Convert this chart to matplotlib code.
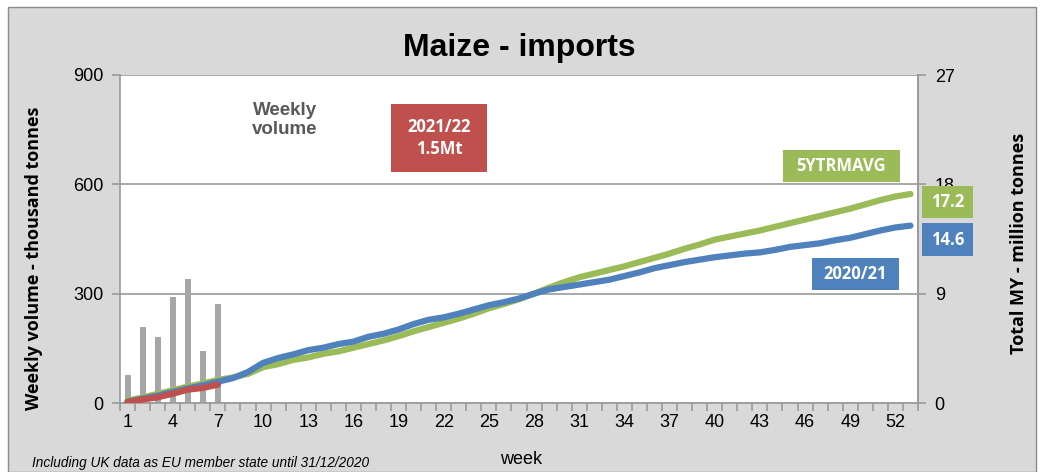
import matplotlib.pyplot as plt
from matplotlib.patches import Rectangle
import numpy as np

weeks = list(range(1, 54))
bar_weeks = [1, 2, 3, 4, 5, 6, 7]
weekly_volume = [77, 208, 181, 291, 340, 143, 272]  # thousand tonnes

red_weeks = [1, 2, 3, 4, 5, 6, 7]
cum_2122 = [0.08, 0.29, 0.47, 0.76, 1.10, 1.24, 1.51]  # Mt

cum_2021 = [0.10, 0.35, 0.60, 0.90, 1.20, 1.45, 1.75, 2.05, 2.55, 3.30,
            3.70, 4.00, 4.35, 4.55, 4.85, 5.05, 5.45, 5.70, 6.05, 6.50,
            6.85, 7.05, 7.35, 7.70, 8.05, 8.30, 8.60, 9.00, 9.35, 9.55,
            9.75, 9.95, 10.15, 10.45, 10.75, 11.10, 11.35, 11.60, 11.80, 12.00,
            12.15, 12.30, 12.40, 12.60, 12.85, 13.00, 13.15, 13.40, 13.60, 13.90,
            14.20, 14.45, 14.60]
cum_5yr = [0.20, 0.45, 0.75, 1.05, 1.35, 1.60, 1.90, 2.10, 2.40, 2.95,
           3.20, 3.55, 3.75, 4.05, 4.25, 4.55, 4.85, 5.15, 5.50, 5.90,
           6.25, 6.60, 6.95, 7.35, 7.80, 8.15, 8.55, 9.00, 9.50, 9.95,
           10.35, 10.65, 10.95, 11.25, 11.60, 11.95, 12.30, 12.70, 13.05, 13.45,
           13.70, 13.95, 14.20, 14.50, 14.80, 15.10, 15.40, 15.70, 16.00, 16.35,
           16.70, 17.00, 17.20]

left_ticks = [0, 300, 600, 900]
right_ticks = [0, 9, 18, 27]
xtick_weeks = list(range(1, 53, 3))

RED = '#c0504d'
GREEN = '#9bbb59'
BLUE = '#4f81bd'
GREY = '#a6a6a6'
BG = '#d9d9d9'
narrow = ['Liberation Sans Narrow', 'Liberation Sans', 'DejaVu Sans']
bold_font = ['Open Sans', 'DejaVu Sans']

fig = plt.figure(figsize=(10.44, 4.72), dpi=100, facecolor='white')
fig.patches.append(Rectangle((8 / 1044, 0), 1028 / 1044, 465 / 472,
                             transform=fig.transFigure, facecolor=BG,
                             edgecolor='#8c8c8c', lw=1, zorder=-10))

ax = fig.add_axes([120 / 1044, 69 / 472, 798 / 1044, 328 / 472])
ax.set_facecolor('white')
ax.bar(bar_weeks, weekly_volume, width=0.4, color=GREY, zorder=2)
ax.set_ylim(0, 900)
ax.set_xlim(0.5, 53.5)
ax.set_yticks(left_ticks)
ax.set_yticklabels([str(t) for t in left_ticks], family=narrow, fontsize=13)
ax.yaxis.grid(True, color='#9a9a9a', lw=1.2)
ax.set_axisbelow(True)
ax.set_xticks(xtick_weeks)
ax.set_xticklabels([str(w) for w in xtick_weeks], family=narrow, fontsize=13)
ax.set_xticks(np.arange(0.5, 54, 1), minor=True)
ax.tick_params(axis='x', which='major', length=0, pad=8)
ax.tick_params(axis='x', which='minor', length=6, color='#9a9a9a', width=1.2)
ax.tick_params(axis='y', length=6, color='#9a9a9a', width=1.2, pad=6)
ax.spines['top'].set_visible(False)
for s in ['left', 'bottom', 'right']:
    ax.spines[s].set_color('#9a9a9a')
    ax.spines[s].set_linewidth(1.2)

ax2 = ax.twinx()
ax2.patch.set_visible(False)
ax2.plot(weeks, cum_5yr, color=GREEN, lw=4.5, solid_capstyle='round', zorder=3)
ax2.plot(weeks, cum_2021, color=BLUE, lw=4.5, solid_capstyle='round', zorder=3)
ax2.plot(red_weeks, cum_2122, color=RED, lw=4.5, solid_capstyle='round', zorder=4)
ax2.set_ylim(0, 27)
ax2.set_yticks(right_ticks)
ax2.set_yticklabels([str(t) for t in right_ticks], family=narrow, fontsize=13)
ax2.tick_params(axis='y', length=6, color='#9a9a9a', width=1.2, pad=6)
for s in ['top', 'left', 'bottom']:
    ax2.spines[s].set_visible(False)
ax2.spines['right'].set_color('#9a9a9a')
ax2.spines['right'].set_linewidth(1.2)

fig.text(519 / 1044, 1 - 48 / 472, 'Maize - imports', ha='center', va='center',
         family=narrow, fontsize=23, fontweight='bold')
fig.text(34 / 1044, 1 - 258 / 472, 'Weekly volume - thousand tonnes', rotation=90,
         ha='center', va='center', family=bold_font, fontsize=13, fontweight='bold')
fig.text(1019 / 1044, 1 - 243 / 472, 'Total MY - million tonnes', rotation=90,
         ha='center', va='center', family=bold_font, fontsize=13, fontweight='bold')
fig.text(521 / 1044, 1 - 459 / 472, 'week', ha='center', va='center',
         family=narrow, fontsize=13)
fig.text(32 / 1044, 1 - 463 / 472, 'Including UK data as EU member state until 31/12/2020',
         ha='left', va='center', family=narrow, fontsize=9.8, style='italic')
fig.text(285 / 1044, 1 - 120 / 472, 'Weekly\nvolume', ha='center', va='center',
         family=['Liberation Sans', 'DejaVu Sans'], fontsize=13.5, fontweight='bold',
         color='#595959', linespacing=1.1)


def box(x, y, w, h, color, label, fs=12):
    fig.patches.append(Rectangle((x / 1044, 1 - (y + h) / 472), w / 1044, h / 472,
                                 transform=fig.transFigure, facecolor=color,
                                 edgecolor='none', zorder=5))
    fig.text((x + w / 2) / 1044, 1 - (y + h / 2) / 472, label, ha='center',
             va='center', color='white', family=bold_font, fontsize=fs,
             fontweight='bold', zorder=6, linespacing=1.3)


box(391, 104, 96, 68, RED, '2021/22\n1.5Mt')
box(783, 150, 117, 32, GREEN, '5YTRMAVG')
box(922, 186, 51, 32, GREEN, '17.2')
box(922, 223, 51, 33, BLUE, '14.6')
box(812, 258, 87, 32, BLUE, '2020/21')

fig.savefig('out.png', dpi=100)
